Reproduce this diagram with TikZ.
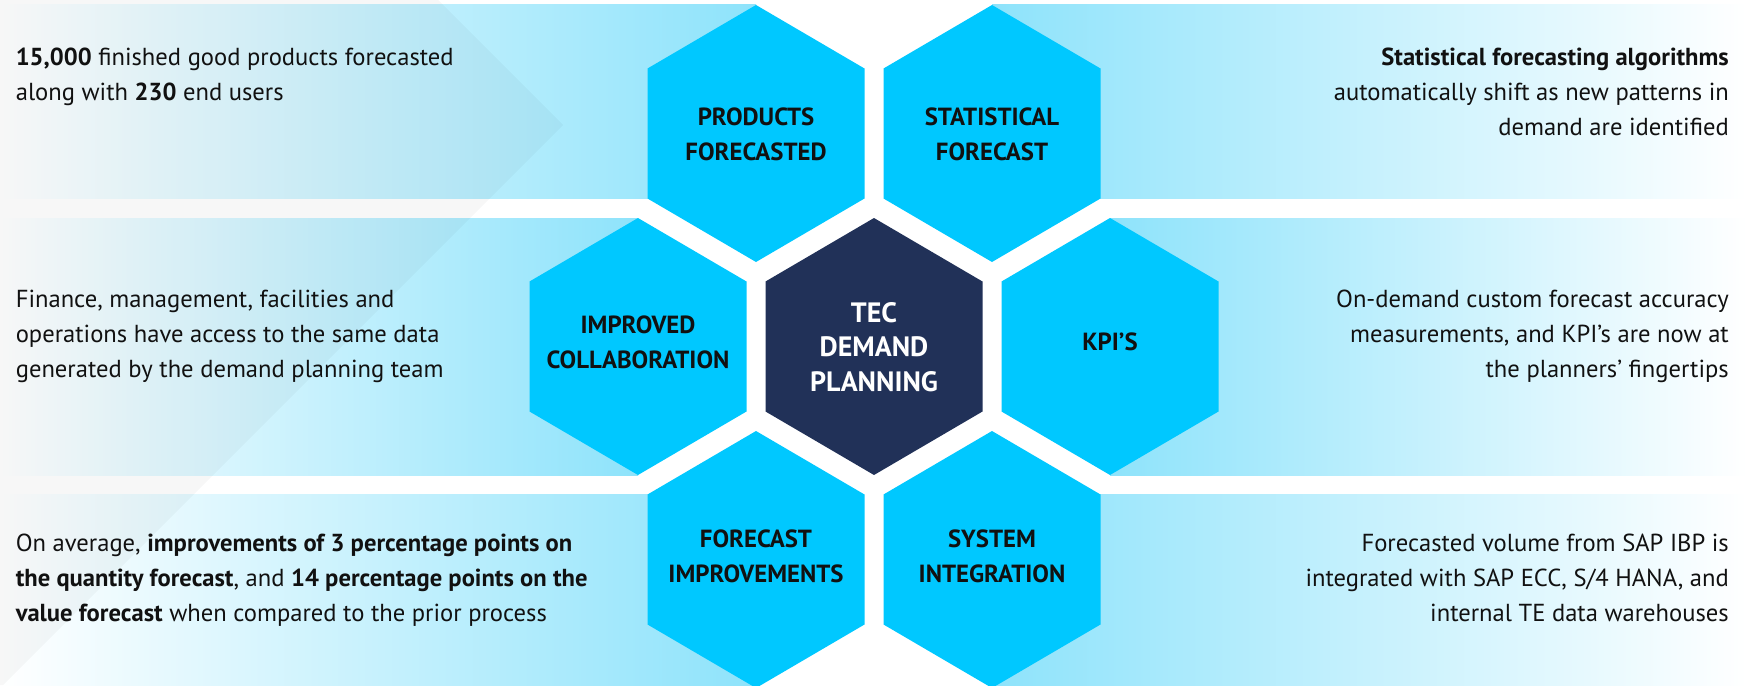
\documentclass[tikz,border=0pt]{standalone}
\usepackage{fontspec}
\setmainfont{PT Sans}
\definecolor{hexcyan}{HTML}{00C8FF}
\definecolor{hexnavy}{HTML}{213158}
\definecolor{bandcyan}{HTML}{8EE3FB}
\definecolor{ink}{HTML}{111111}
\newcommand\myhex[2]{(#1,#2-128.5) -- (#1+108.5,#2-65) -- (#1+108.5,#2+65) -- (#1,#2+128.5) -- (#1-108.5,#2+65) -- (#1-108.5,#2-65) -- cycle}
\tikzset{
  bandL/.style={left color=white, right color=bandcyan},
  bandR/.style={left color=bandcyan, right color=white},
  hexlabel/.style={font=\bfseries\fontsize{24.8}{35}\selectfont, text=ink, align=center, inner sep=0pt},
  corelabel/.style={font=\bfseries\fontsize{28}{34.3}\selectfont, text=white, align=center, inner sep=0pt},
  descL/.style={font=\fontsize{24.6}{35}\selectfont, text=ink, align=left, inner sep=0pt, anchor=base west},
  descR/.style={font=\fontsize{24.6}{35}\selectfont, text=ink, align=right, inner sep=0pt, anchor=base east},
}
\begin{document}
\begin{tikzpicture}[x=1pt,y=-1pt]
\useasboundingbox (0,0) rectangle (1747,685);
\fill[white] (0,0) rectangle (1747,685);
% bands
\shade[bandL] (0,5) rectangle (756,198.5);
\shade[bandR] (992,5) rectangle (1747,198.5);
\shade[bandL] (0,218) rectangle (638,475);
\shade[bandR] (1110,218) rectangle (1747,475);
\shade[bandL] (0,494.5) rectangle (756,685);
\shade[bandR] (992,494.5) rectangle (1747,685);
% chevron overlay
\fill[black, opacity=0.03] (0,0) -- (438,0) -- (563,125) -- (3,685) -- (0,685) -- cycle;
% hexagons
\fill[hexcyan] \myhex{756}{133.5};
\fill[hexcyan] \myhex{992}{133.5};
\fill[hexcyan] \myhex{638}{346.5};
\fill[hexnavy] \myhex{874}{346.5};
\fill[hexcyan] \myhex{1110}{346.5};
\fill[hexcyan] \myhex{756}{559.5};
\fill[hexcyan] \myhex{992}{559.5};
% hex labels
\node[hexlabel] (prod) at (756,134.3) {PRODUCTS\\FORECASTED};
\node[hexlabel] (stat) at (992,134.3) {STATISTICAL\\FORECAST};
\node[hexlabel] (collab) at (638,342.3) {IMPROVED\\COLLABORATION};
\node[corelabel] (core) at (874,346.9) {TEC\\DEMAND\\PLANNING};
\node[hexlabel] (kpi) at (1110,341.4) {KPI’S};
\node[hexlabel] (fcimp) at (756,556) {FORECAST\\IMPROVEMENTS};
\node[hexlabel] (sysint) at (992,556) {SYSTEM\\INTEGRATION};
% descriptions (base anchor = baseline of last line)
\node[descL] (d1) at (15.6,100) {\textbf{15,000} finished good products forecasted\\along with \textbf{230} end users};
\node[descL] (d2) at (15.6,377.7) {Finance, management, facilities and\\operations have access to the same data\\generated by the demand planning team};
\node[descL] (d3) at (15.6,621) {On average, \textbf{improvements of 3 percentage points on}\\\textbf{the quantity forecast}, and \textbf{14 percentage points on the}\\\textbf{value forecast} when compared to the prior process};
\node[descR] (d4) at (1729,135) {\textbf{Statistical forecasting algorithms}\\automatically shift as new patterns in\\demand are identified};
\node[descR] (d5) at (1729,377.7) {On-demand custom forecast accuracy\\measurements, and KPI’s are now at\\the planners’ fingertips};
\node[descR] (d6) at (1729,621) {Forecasted volume from SAP IBP is\\integrated with SAP ECC, S/4 HANA, and\\internal TE data warehouses};
\end{tikzpicture}
\end{document}
